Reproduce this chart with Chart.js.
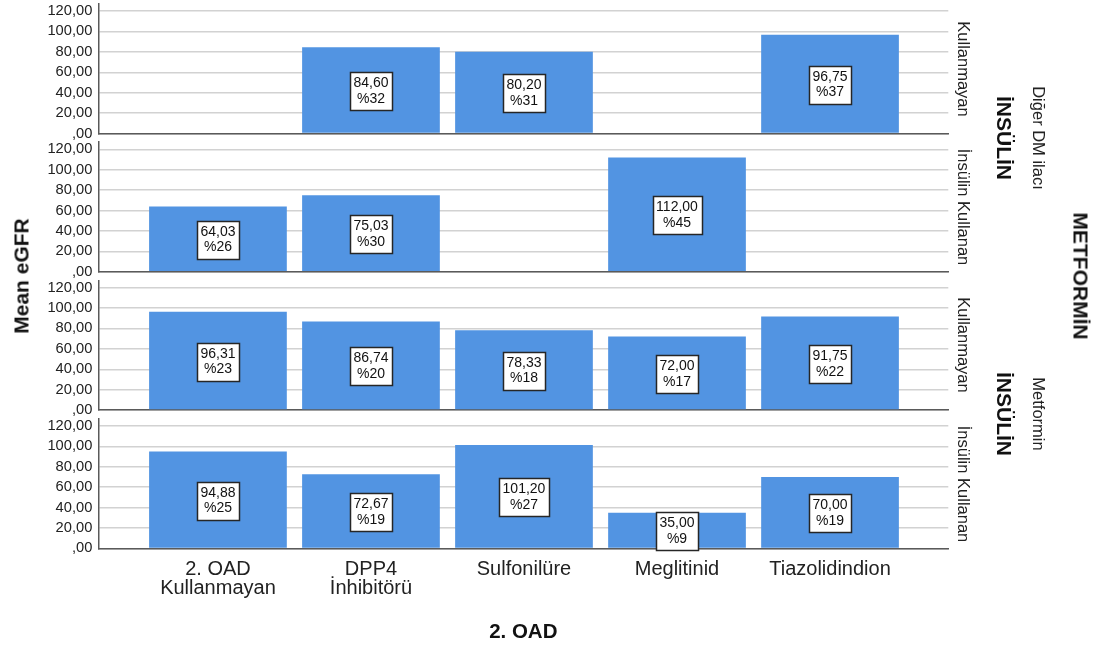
<!DOCTYPE html>
<html>
<head>
<meta charset="utf-8">
<script src="https://cdn.jsdelivr.net/npm/chart.js@4.4.1/dist/chart.umd.min.js"></script>
<style>
  body { margin: 0; background: #fff; }
  #stage { position: relative; width: 1102px; height: 650px; overflow: hidden; font-family: "Liberation Sans", Arial, sans-serif; }
  .layer { position: absolute; left: 0; top: 0; width: 1102px; height: 650px; }
  .vt { position: absolute; white-space: nowrap; color: #222; line-height: 1; }
</style>
</head>
<body>
<div id="stage">
  <div class="layer"><canvas id="panel0"></canvas></div>
  <div class="layer"><canvas id="panel1"></canvas></div>
  <div class="layer"><canvas id="panel2"></canvas></div>
  <div class="layer"><canvas id="panel3"></canvas></div>
</div>
<script>
// categories on the x axis (2. OAD)
const oadLabels = [['2. OAD', 'Kullanmayan'], ['DPP4', 'İnhibitörü'], 'Sulfonilüre', 'Meglitinid', 'Tiazolidindion'];
const yTicks = [0, 20, 40, 60, 80, 100, 120];

// panel labels (right side)
const insulinLabels = ['Kullanmayan', 'İnsülin Kullanan', 'Kullanmayan', 'İnsülin Kullanan'];
const metforminLabels = ['Diğer DM ilacı', 'Metformin'];

// Mean eGFR + percent, one pair per panel
const egfrDigerKullanmayan = [null, 84.60, 80.20, null, 96.75];
const pctDigerKullanmayan = [null, 32, 31, null, 37];
const egfrDigerInsulin = [64.03, 75.03, null, 112.00, null];
const pctDigerInsulin = [26, 30, null, 45, null];
const egfrMetforminKullanmayan = [96.31, 86.74, 78.33, 72.00, 91.75];
const pctMetforminKullanmayan = [23, 20, 18, 17, 22];
const egfrMetforminInsulin = [94.88, 72.67, 101.20, 35.00, 70.00];
const pctMetforminInsulin = [25, 19, 27, 9, 19];

const panelValues = [egfrDigerKullanmayan, egfrDigerInsulin, egfrMetforminKullanmayan, egfrMetforminInsulin];
const panelPcts = [pctDigerKullanmayan, pctDigerInsulin, pctMetforminKullanmayan, pctMetforminInsulin];

// layout
const W = 1102, H = 650;
const PLOT_LEFT = 98.3, PLOT_RIGHT = 948.3;
const PANEL_Y0 = 133.5, PANEL_STEP = 138.3;
const Y_MAX = 127, PX_PER_UNIT = 1.0208;
const PANEL_H = Y_MAX * PX_PER_UNIT;
const X_MIN = 0.218, X_MAX = 5.773;

const BAR = '#5294e2';
const GRID = '#d2d2d2';
const AXIS = '#5a5a5a';
const FONT = '"Liberation Sans", Arial, sans-serif';

function fmt(v) {
    if (v === 0) return ',00';
    return v.toFixed(2).replace('.', ',');
}

// white boxes with value and percent in the middle of each bar
const boxLabels = {
    id: 'boxLabels',
    afterDraw(chart) {
        const ctx = chart.ctx;
        const ds = chart.data.datasets[0];
        const meta = chart.getDatasetMeta(0);
        const lh = 15.7, h = 38;
        ctx.save();
        ctx.font = '14px ' + FONT;
        ctx.textAlign = 'center';
        ctx.textBaseline = 'middle';
        meta.data.forEach((bar, i) => {
            const v = ds.data[i].y;
            if (v == null) return;
            const lines = [fmt(v), '%' + ds.pcts[i]];
            const w = Math.max(...lines.map(t => ctx.measureText(t).width)) + 7;
            const cx = bar.x;
            const cy = (bar.y + bar.base) / 2 + 1;
            const x0 = Math.round(cx - w / 2) + 0.5;
            const y0 = Math.round(cy - h / 2) + 0.5;
            ctx.fillStyle = '#fff';
            ctx.fillRect(x0, y0, Math.round(w), h);
            ctx.strokeStyle = '#262626';
            ctx.lineWidth = 1.5;
            ctx.strokeRect(x0, y0, Math.round(w), h);
            ctx.fillStyle = '#111';
            ctx.fillText(lines[0], cx, cy - lh / 2);
            ctx.fillText(lines[1], cx, cy + lh / 2);
        });
        ctx.restore();
    }
};

function makePanel(i) {
    const last = i === panelValues.length - 1;
    const y0 = PANEL_Y0 + PANEL_STEP * i;
    const top = y0 - PANEL_H;
    const xHeight = last ? H - y0 : 0;
    const points = panelValues[i].map((v, k) => ({ x: k + 1, y: v }));

    new Chart(document.getElementById('panel' + i), {
        type: 'bar',
        data: {
            datasets: [{
                data: points,
                pcts: panelPcts[i],
                backgroundColor: BAR,
                borderWidth: 0,
                barPercentage: 0.9,
                categoryPercentage: 1
            }]
        },
        options: {
            responsive: true,
            maintainAspectRatio: false,
            animation: false,
            events: [],
            layout: {
                padding: { top: top, bottom: last ? 0 : H - y0, left: 0, right: W - PLOT_RIGHT }
            },
            plugins: {
                legend: { display: false },
                tooltip: { enabled: false }
            },
            scales: {
                x: {
                    type: 'linear',
                    min: X_MIN,
                    max: X_MAX,
                    offset: false,
                    grid: { display: false, drawTicks: false, offset: false },
                    border: { display: true, color: AXIS, width: 1.5 },
                    afterBuildTicks: s => { s.ticks = oadLabels.map((_, k) => ({ value: k + 1 })); },
                    afterFit: s => { s.height = xHeight; s.paddingLeft = 0; s.paddingRight = 0; },
                    ticks: {
                        display: last,
                        padding: 11,
                        color: '#222',
                        font: { family: FONT, size: 20, lineHeight: 0.97 },
                        maxRotation: 0,
                        autoSkip: false,
                        callback: v => oadLabels[Math.round(v) - 1]
                    },
                    title: {
                        display: last,
                        text: '2. OAD',
                        color: '#111',
                        font: { family: FONT, size: 20.5, weight: 'bold', lineHeight: 1.2 },
                        padding: { top: 0, bottom: 5.7 }
                    }
                },
                y: {
                    min: 0,
                    max: Y_MAX,
                    afterBuildTicks: s => { s.ticks = yTicks.map(v => ({ value: v })); },
                    afterFit: s => { s.width = PLOT_LEFT; s.paddingTop = 0; s.paddingBottom = 0; },
                    grid: { color: GRID, lineWidth: 1.5, drawTicks: false },
                    border: { color: AXIS, width: 1.5 },
                    ticks: {
                        padding: 6,
                        color: '#222',
                        font: { family: FONT, size: 14.7 },
                        callback: v => fmt(v)
                    }
                }
            }
        },
        plugins: [boxLabels]
    });
}

for (let i = 0; i < panelValues.length; i++) makePanel(i);

// rotated text: left axis title and nested panel labels on the right
const stage = document.getElementById('stage');
function vtext(text, cx, cy, size, bold, angle) {
    const d = document.createElement('div');
    d.className = 'vt';
    d.textContent = text;
    d.style.left = cx + 'px';
    d.style.top = cy + 'px';
    d.style.fontSize = size + 'px';
    if (bold) { d.style.fontWeight = 'bold'; d.style.color = '#111'; }
    d.style.transform = 'translate(-50%, -50%) rotate(' + angle + 'deg)';
    stage.appendChild(d);
}

const panelCenter = i => PANEL_Y0 + PANEL_STEP * i - PANEL_H / 2;
const allTop = PANEL_Y0 - PANEL_H;
const allBottom = PANEL_Y0 + PANEL_STEP * 3;

vtext('Mean eGFR', 20.5, (allTop + allBottom) / 2, 21, true, -90);
insulinLabels.forEach((t, i) => vtext(t, 964, panelCenter(i), 16.5, false, 90));
metforminLabels.forEach((t, j) => {
    const c = (panelCenter(2 * j) + panelCenter(2 * j + 1)) / 2;
    vtext('İNSÜLİN', 1003.5, c, 21, true, 90);
    vtext(t, 1039, c, 16.5, false, 90);
});
vtext('METFORMİN', 1081, (allTop + allBottom) / 2, 21, true, 90);
</script>
</body>
</html>
